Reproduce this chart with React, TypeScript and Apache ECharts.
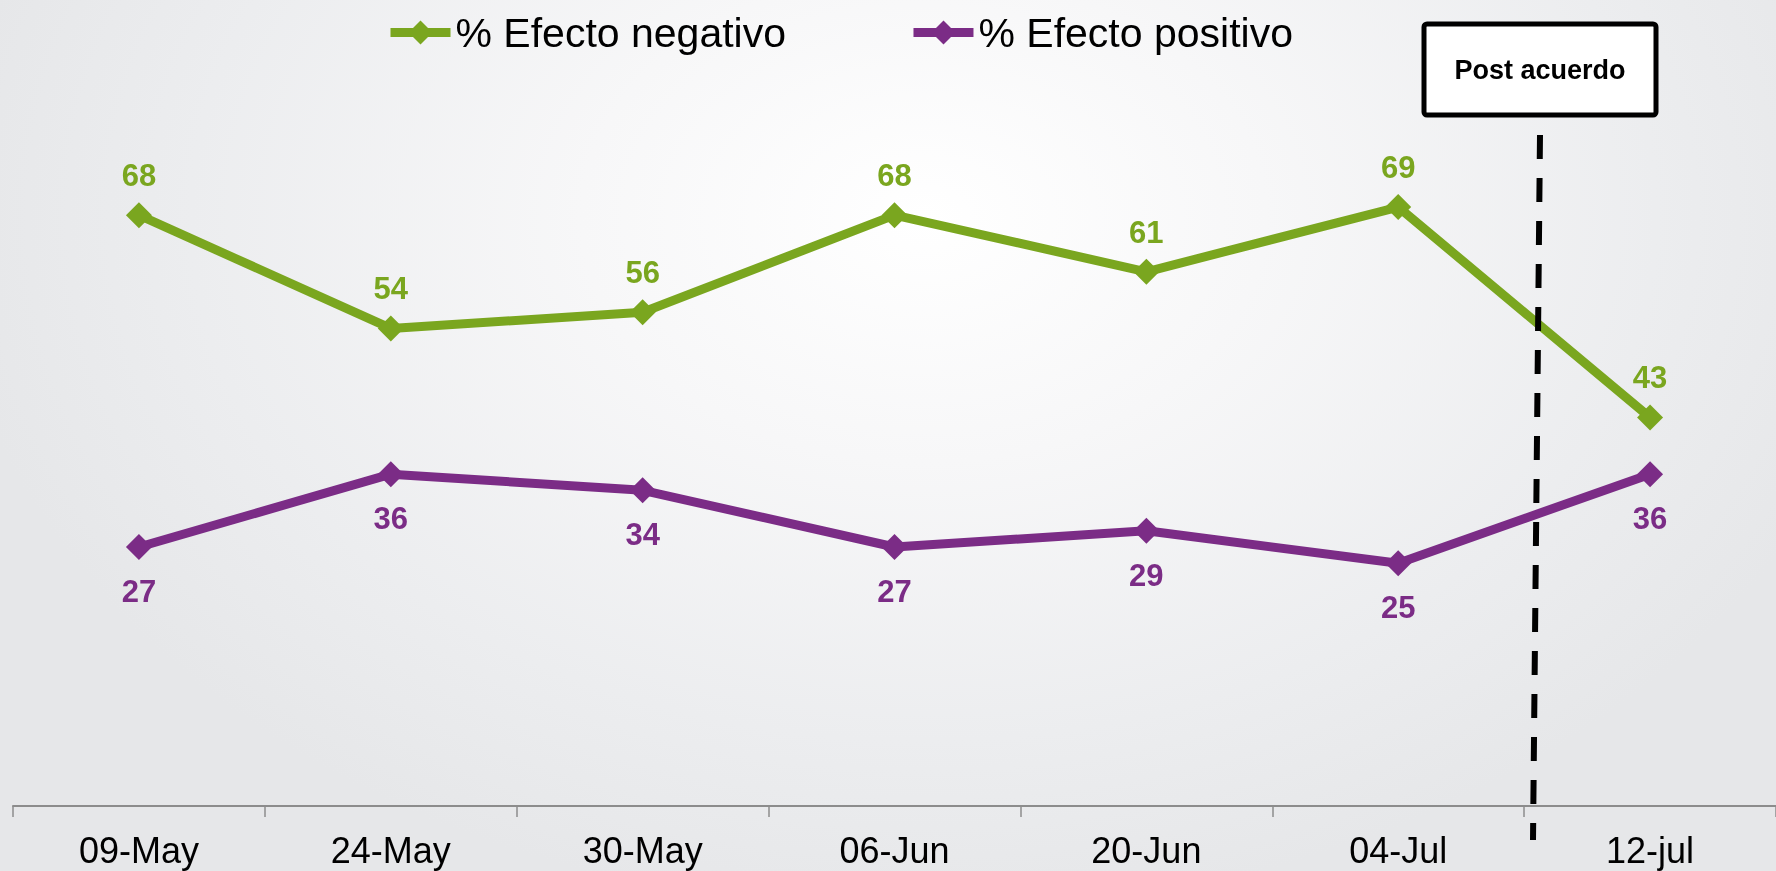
import React, { useEffect, useRef } from "react";
import * as echarts from "echarts";

const categories = ["09-May", "24-May", "30-May", "06-Jun", "20-Jun", "04-Jul", "12-jul"];
const negativo = [68, 54, 56, 68, 61, 69, 43];
const positivo = [27, 36, 34, 27, 29, 25, 36];
const seriesNames = ["% Efecto negativo", "% Efecto positivo"];
const annotationText = "Post acuerdo";

const GREEN = "#7aa61f";
const PURPLE = "#7b2c86";
const FONT = "'Liberation Sans', Arial, sans-serif";

export default function App() {
  const ref = useRef<HTMLDivElement>(null);
  useEffect(() => {
    if (!ref.current) return;
    const chart = echarts.init(ref.current, undefined, { renderer: "svg" });
    const mkSeries = (name: string, data: number[], color: string, pos: "top" | "bottom", dist: number) => ({
      name,
      type: "line",
      data,
      symbol: "diamond",
      symbolSize: 26,
      lineStyle: { color, width: 9 },
      itemStyle: { color },
      label: {
        show: true,
        position: pos,
        distance: dist,
        color,
        fontSize: 31,
        fontWeight: "bold",
        fontFamily: FONT,
      },
    });
    chart.setOption({
      animation: false,
      backgroundColor: "transparent",
      textStyle: { fontFamily: FONT },
      legend: {
        left: 386,
        top: 12,
        padding: 0,
        itemWidth: 60,
        itemHeight: 30,
        itemGap: 123,
        lineStyle: { width: 9 },
        textStyle: { fontSize: 41, color: "#000", fontFamily: FONT },
        data: seriesNames,
      },
      grid: { left: 13, width: 1769, top: 118, bottom: 65, containLabel: false },
      xAxis: {
        type: "category",
        data: categories,
        boundaryGap: true,
        axisLine: { onZero: false, lineStyle: { color: "#8c8c8c", width: 2 } },
        axisTick: { show: true, length: 11, lineStyle: { color: "#8c8c8c", width: 1.5 } },
        axisLabel: { color: "#000", fontSize: 36, fontFamily: FONT, margin: 26 },
      },
      yAxis: {
        type: "value",
        min: -5,
        max: 80,
        show: false,
        splitLine: { show: false },
      },
      series: [
        mkSeries(seriesNames[0], negativo, GREEN, "top", 11),
        mkSeries(seriesNames[1], positivo, PURPLE, "bottom", 16),
      ],
      graphic: [
        {
          type: "line",
          shape: { x1: 1540, y1: 135, x2: 1533, y2: 840 },
          style: { stroke: "#000", lineWidth: 6, lineDash: [24, 19] },
          z: 10,
        },
        {
          type: "rect",
          shape: { x: 1424, y: 24, width: 232, height: 91, r: 3 },
          style: { fill: "#fff", stroke: "#000", lineWidth: 5 },
          z: 10,
        },
        {
          type: "text",
          x: 1540,
          y: 70,
          style: {
            text: annotationText,
            fill: "#000",
            font: `bold 27px ${FONT}`,
            align: "center",
            verticalAlign: "middle",
          },
          z: 11,
        },
      ],
    });
    return () => chart.dispose();
  }, []);
  return (
    <div
      style={{
        position: "fixed",
        left: 0,
        top: 0,
        width: 1776,
        height: 871,
        background:
          "radial-gradient(ellipse 55% 80% at 52% 25%, #ffffff 0%, #f7f7f8 35%, #ecedef 75%, #e6e7e9 100%)",
      }}
    >
      <div ref={ref} style={{ width: 1776, height: 871 }} />
    </div>
  );
}
